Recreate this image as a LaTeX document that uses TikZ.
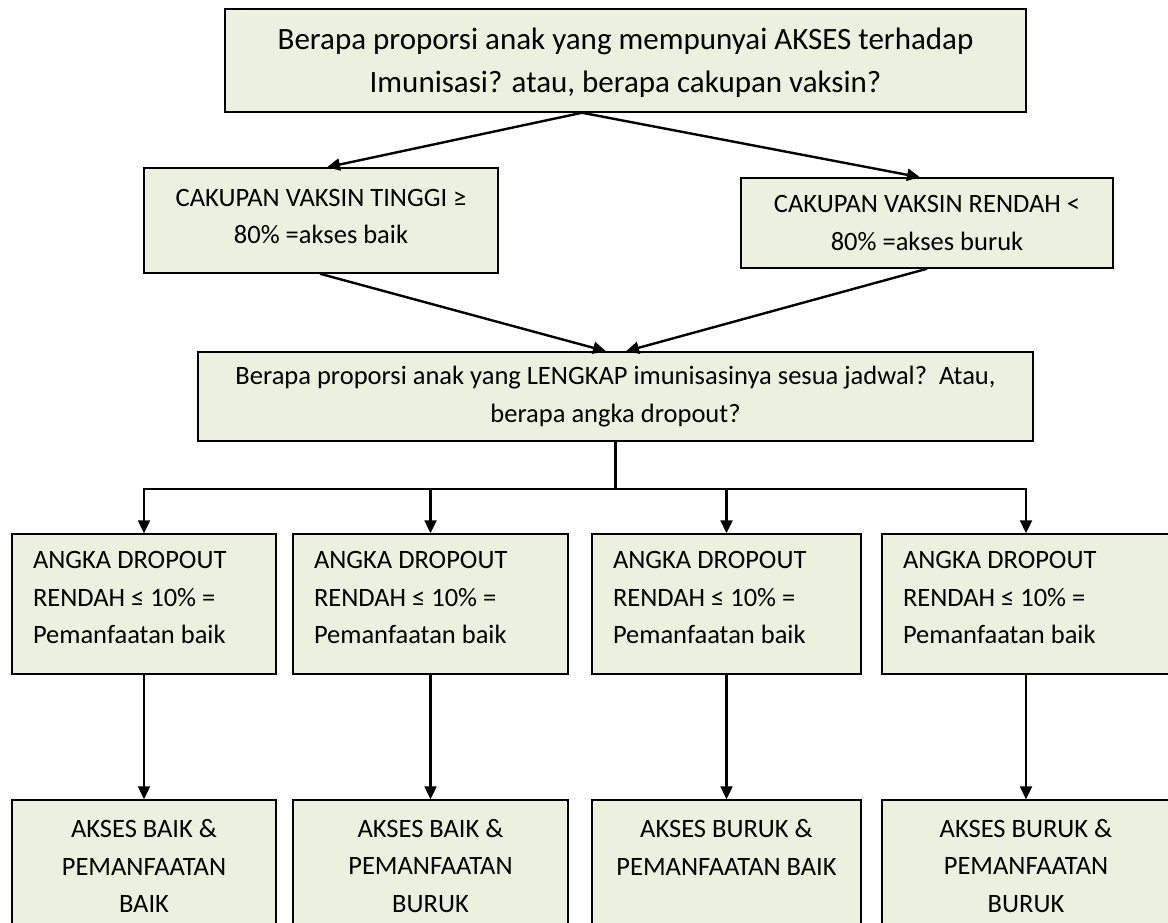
\documentclass[tikz,border=0pt]{standalone}
\usepackage{fontspec}
\setmainfont{Carlito}
\usetikzlibrary{arrows.meta}
\definecolor{boxfill}{HTML}{EBF1DE}
\tikzset{
  box/.style={draw=black, line width=1.5pt, fill=boxfill, inner sep=0pt, align=center},
  dropbox/.style={box, align=flush left, inner xsep=21pt, minimum height=140pt, text depth=88pt},
  hasilbox/.style={box, minimum height=132pt},
  conn/.style={line width=2.4pt, -{Triangle[length=13pt,width=12pt]}},
}
\begin{document}
\begin{tikzpicture}[x=1pt, y=-1pt, font=\fontsize{26.5}{37.5}\selectfont]
  \clip (0,0) rectangle (1168,923);
  \fill[white] (0,0) rectangle (1168,923);

  % questions and coverage
  \node[box, minimum width=801pt, minimum height=103pt, text depth=0pt, font=\fontsize{31}{43}\selectfont] (akses) at (625.5,60.5)
    {Berapa proporsi anak yang mempunyai AKSES terhadap\\Imunisasi? atau, berapa cakupan vaksin?};
  \node[box, minimum width=354pt, minimum height=105pt, text depth=8.5pt] (tinggi) at (321,220.5)
    {CAKUPAN VAKSIN TINGGI ≥\\80\% =akses baik};
  \node[box, minimum width=372pt, minimum height=90pt] (rendah) at (927,223)
    {CAKUPAN VAKSIN RENDAH <\\80\% =akses buruk};
  \node[box, minimum width=835pt, minimum height=89pt] (lengkap) at (615.5,396.5)
    {Berapa proporsi anak yang LENGKAP imunisasinya sesua jadwal?\ \ Atau,\\berapa angka dropout?};

  % dropout boxes
  \node[dropbox, text width=222pt] (drop1) at (144,604)
    {ANGKA DROPOUT\\RENDAH ≤ 10\% =\\Pemanfaatan baik};
  \node[dropbox, text width=233pt] (drop2) at (430.5,604)
    {ANGKA DROPOUT\\RENDAH ≤ 10\% =\\Pemanfaatan baik};
  \node[dropbox, text width=227pt] (drop3) at (726.5,604)
    {ANGKA DROPOUT\\RENDAH ≤ 10\% =\\Pemanfaatan baik};
  \node[dropbox, text width=246pt] (drop4) at (1026,604)
    {ANGKA DROPOUT\\RENDAH ≤ 10\% =\\Pemanfaatan baik};

  % results
  \node[hasilbox, minimum width=264pt] (hasil1) at (144,866)
    {AKSES BAIK \&\\PEMANFAATAN\\BAIK};
  \node[hasilbox, minimum width=275pt] (hasil2) at (430.5,866)
    {AKSES BAIK \&\\PEMANFAATAN\\BURUK};
  \node[hasilbox, minimum width=269pt] (hasil3) at (726.5,866)
    {AKSES BURUK \&\\PEMANFAATAN BAIK\\~};
  \node[hasilbox, minimum width=288pt] (hasil4) at (1026,866)
    {AKSES BURUK \&\\PEMANFAATAN\\BURUK};

  % connectors
  \draw[conn] ([xshift=-43.5pt]akses.south) -- ([xshift=6pt]tinggi.north);
  \draw[conn] ([xshift=-43.5pt]akses.south) -- ([xshift=-7pt]rendah.north);
  \draw[conn] ([xshift=-1pt]tinggi.south) -- ([xshift=-9.5pt]lengkap.north);
  \draw[conn] (rendah.south) -- ([xshift=10.5pt]lengkap.north);
  \draw[line width=2.4pt] (lengkap.south) -- ([yshift=-47pt]lengkap.south) coordinate (split);
  \foreach \i in {1,...,4}
    \draw[conn] (split) -| (drop\i.north);
  \foreach \i in {1,...,4}
    \draw[conn] (drop\i.south) -- (hasil\i.north);
\end{tikzpicture}
\end{document}
